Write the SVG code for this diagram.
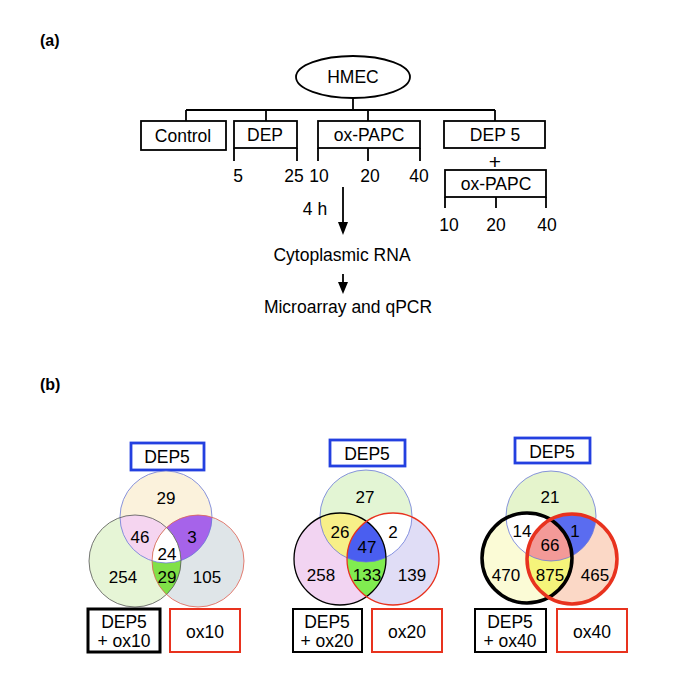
<svg xmlns="http://www.w3.org/2000/svg" width="685" height="682" viewBox="0 0 685 682">
<style>
text{font-family:"Liberation Sans",Arial,sans-serif;font-size:17.5px;fill:#000;text-anchor:middle}
.lab{font-weight:bold;font-size:16px;text-anchor:start}
.ln{stroke:#000;stroke-width:1.8;fill:none}
.bx{fill:#fff;stroke:#000;stroke-width:1.8}
.blue{fill:#fff;stroke:#2340e0;stroke-width:2.8}
.red{fill:#fff;stroke:#e8321e;stroke-width:2}
.blk{fill:#fff;stroke:#000;stroke-width:2}
.vn{font-size:17px}
</style>
<defs>
<clipPath id="a1"><circle cx="166" cy="517" r="46"/></clipPath>
<clipPath id="b1"><circle cx="135" cy="561" r="46"/></clipPath>
<clipPath id="c1"><circle cx="198" cy="561" r="46"/></clipPath>
<clipPath id="a2"><circle cx="366" cy="516" r="46"/></clipPath>
<clipPath id="b2"><circle cx="340" cy="559" r="46"/></clipPath>
<clipPath id="c2"><circle cx="393" cy="559" r="46"/></clipPath>
<clipPath id="a3"><circle cx="551" cy="516" r="45"/></clipPath>
<clipPath id="b3"><circle cx="527" cy="558" r="45"/></clipPath>
<clipPath id="c3"><circle cx="572" cy="559" r="45"/></clipPath>
</defs>
<rect width="685" height="682" fill="#fff"/>
<text class="lab" x="40" y="46">(a)</text>
<text class="lab" x="40" y="390">(b)</text>

<g id="connectors">
<path class="ln" d="M353,98V110M186,110H495M186,110V121M266,110V121M368,110V121M495,110V121"/>
<path class="ln" d="M234,148V161M297,148V161M318,148V161M368,148V161M420,148V161"/>
<path class="ln" d="M445,197V208M496,197V208M546,197V208"/>
<path class="ln" d="M343,187V224"/>
<polygon points="338,222 348,222 343,235" fill="#000"/>
<path class="ln" d="M343,274V284"/>
<polygon points="338,282 348,282 343,294" fill="#000"/>
</g>

<g id="hmec"><ellipse cx="353" cy="77" rx="57" ry="21" class="bx"/><text x="353" y="83">HMEC</text></g>
<g id="control"><rect x="141" y="121" width="85" height="29" class="bx"/><text x="183" y="142">Control</text></g>
<g id="dep"><rect x="234" y="121" width="63" height="27" class="bx"/><text x="265" y="141">DEP</text>
<text x="238" y="182">5</text><text x="294" y="182">25</text></g>
<g id="oxpapc"><rect x="318" y="121" width="102" height="27" class="bx"/><text x="369" y="141">ox-PAPC</text>
<text x="319" y="182">10</text><text x="370" y="182">20</text><text x="419" y="182">40</text></g>
<g id="dep5combo"><rect x="444" y="121" width="101" height="27" class="bx"/><text x="495" y="141">DEP 5</text>
<text x="495" y="169" style="font-size:21px">+</text>
<rect x="445" y="170" width="101" height="27" class="bx"/><text x="496" y="190">ox-PAPC</text>
<text x="449" y="231">10</text><text x="496" y="231">20</text><text x="547" y="231">40</text></g>
<g id="time"><text x="315" y="215">4 h</text></g>
<g id="rna"><text x="342" y="261">Cytoplasmic RNA</text></g>
<g id="microarray"><text x="348" y="313">Microarray and qPCR</text></g>

<g id="venn1">
<rect x="131" y="443" width="73" height="27" class="blue"/><text x="167" y="463">DEP5</text>
<circle cx="166" cy="517" r="46" fill="#fbf2dc"/>
<circle cx="135" cy="561" r="46" fill="#e6f5d6"/>
<circle cx="198" cy="561" r="46" fill="#dfe5e8"/>
<circle cx="135" cy="561" r="46" fill="#f5d5f0" clip-path="url(#a1)"/>
<circle cx="198" cy="561" r="46" fill="#a663ea" clip-path="url(#a1)"/>
<circle cx="198" cy="561" r="46" fill="#80e048" clip-path="url(#b1)"/>
<g clip-path="url(#a1)"><circle cx="198" cy="561" r="46" fill="#fff" clip-path="url(#b1)"/></g>
<circle cx="166" cy="517" r="46" fill="none" stroke="#6a78d8" stroke-width="0.8"/>
<circle cx="135" cy="561" r="46" fill="none" stroke="#555" stroke-width="0.8"/>
<circle cx="198" cy="561" r="46" fill="none" stroke="#e06050" stroke-width="0.8"/>
<text class="vn" x="166" y="504">29</text>
<text class="vn" x="140" y="543">46</text>
<text class="vn" x="192" y="543">3</text>
<text class="vn" x="167" y="560">24</text>
<text class="vn" x="123" y="583">254</text>
<text class="vn" x="167" y="583">29</text>
<text class="vn" x="207" y="583">105</text>
<rect x="88" y="609" width="72" height="43" fill="#fff" stroke="#000" stroke-width="3"/>
<text x="124" y="628">DEP5</text><text x="124" y="647">+ ox10</text>
<rect x="170" y="609" width="70" height="43" class="red"/><text x="205" y="638">ox10</text>
</g>

<g id="venn2">
<rect x="330" y="440" width="75" height="26" class="blue"/><text x="367" y="460">DEP5</text>
<circle cx="366" cy="516" r="46" fill="#e3f5d4"/>
<circle cx="340" cy="559" r="46" fill="#f2d4f2"/>
<circle cx="393" cy="559" r="46" fill="#e0ddf6"/>
<circle cx="340" cy="559" r="46" fill="#f7ef88" clip-path="url(#a2)"/>
<circle cx="393" cy="559" r="46" fill="#fff" clip-path="url(#a2)"/>
<circle cx="393" cy="559" r="46" fill="#80ec50" clip-path="url(#b2)"/>
<g clip-path="url(#a2)"><circle cx="393" cy="559" r="46" fill="#4a5ef0" clip-path="url(#b2)"/></g>
<circle cx="366" cy="516" r="46" fill="none" stroke="#6a78d8" stroke-width="0.8"/>
<circle cx="340" cy="559" r="46" fill="none" stroke="#000" stroke-width="1.3"/>
<circle cx="393" cy="559" r="46" fill="none" stroke="#e8321e" stroke-width="1.3"/>
<text class="vn" x="365" y="503">27</text>
<text class="vn" x="340" y="538">26</text>
<text class="vn" x="393" y="538">2</text>
<text class="vn" x="367" y="553">47</text>
<text class="vn" x="321" y="581">258</text>
<text class="vn" x="367" y="581">133</text>
<text class="vn" x="412" y="581">139</text>
<rect x="293" y="609" width="69" height="43" class="blk"/>
<text x="327" y="628">DEP5</text><text x="327" y="647">+ ox20</text>
<rect x="372" y="609" width="70" height="43" class="red"/><text x="407" y="638">ox20</text>
</g>

<g id="venn3">
<rect x="515" y="438" width="75" height="25" class="blue"/><text x="552" y="458">DEP5</text>
<circle cx="551" cy="516" r="45" fill="#e5f4cc"/>
<circle cx="527" cy="558" r="45" fill="#fbfbd6"/>
<circle cx="572" cy="559" r="45" fill="#fbd8c6"/>
<circle cx="527" cy="558" r="45" fill="#fff" clip-path="url(#a3)"/>
<circle cx="572" cy="559" r="45" fill="#5a6cf0" clip-path="url(#a3)"/>
<circle cx="572" cy="559" r="45" fill="#f5f47a" clip-path="url(#b3)"/>
<g clip-path="url(#a3)"><circle cx="572" cy="559" r="45" fill="#f39a98" clip-path="url(#b3)"/></g>
<circle cx="551" cy="516" r="45" fill="none" stroke="#6a78d8" stroke-width="0.8"/>
<circle cx="527" cy="558" r="45" fill="none" stroke="#000" stroke-width="3.5"/>
<circle cx="572" cy="559" r="45" fill="none" stroke="#e8321e" stroke-width="3.5"/>
<text class="vn" x="550" y="503">21</text>
<text class="vn" x="522" y="537">14</text>
<text class="vn" x="575" y="537">1</text>
<text class="vn" x="550" y="551">66</text>
<text class="vn" x="506" y="581">470</text>
<text class="vn" x="550" y="581">875</text>
<text class="vn" x="595" y="581">465</text>
<rect x="475" y="609" width="71" height="43" class="blk"/>
<text x="510" y="628">DEP5</text><text x="510" y="647">+ ox40</text>
<rect x="557" y="609" width="70" height="43" class="red"/><text x="592" y="638">ox40</text>
</g>
</svg>
